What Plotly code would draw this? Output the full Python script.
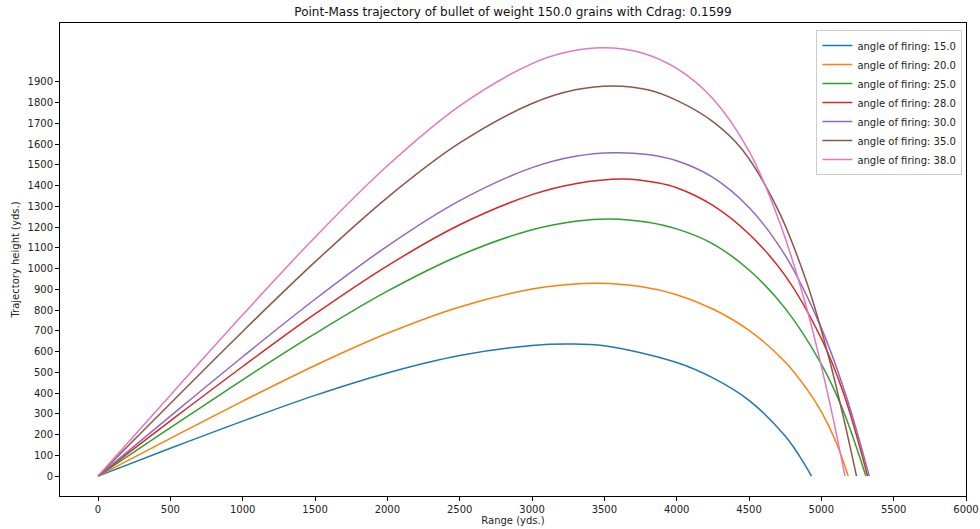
import plotly.graph_objects as go

angles = ["15.0", "20.0", "25.0", "28.0", "30.0", "35.0", "38.0"]
colors = ["#1f77b4", "#ff7f0e", "#2ca02c", "#d62728", "#9467bd", "#8c564b", "#e377c2"]

x15 = [0, 500, 1000, 1500, 2000, 2500, 3000, 3250, 3500, 4000, 4250, 4500, 4750, 4850, 4932]
y15 = [0, 134, 265, 389, 497, 581, 629, 636, 628, 547, 473, 365, 193, 95, 0]

x20 = [0, 500, 1000, 1500, 2000, 2500, 3000, 3250, 3451, 3750, 4000, 4250, 4500, 4750, 4900, 5000, 5100, 5186]
y20 = [0, 182, 361, 533, 688, 815, 901, 923, 929, 913, 874, 805, 702, 550, 419, 311, 167, 0]

x25 = [0, 500, 1000, 1500, 2000, 2500, 3000, 3300, 3543, 3800, 4000, 4250, 4500, 4750, 5000, 5150, 5308]
y25 = [0, 233, 464, 686, 891, 1063, 1187, 1228, 1239, 1223, 1191, 1119, 993, 808, 539, 317, 0]

x28 = [0, 500, 1000, 1500, 2000, 2500, 3000, 3300, 3636, 3866, 4000, 4250, 4500, 4750, 5000, 5160, 5320]
y28 = [0, 266, 528, 781, 1013, 1211, 1356, 1409, 1431, 1413, 1389, 1304, 1166, 966, 663, 386, 0]

x30 = [0, 500, 1000, 1500, 2000, 2500, 3000, 3300, 3566, 3800, 4000, 4250, 4500, 4750, 5000, 5170, 5331]
y30 = [0, 289, 575, 852, 1108, 1327, 1486, 1541, 1558, 1549, 1519, 1439, 1294, 1063, 713, 389, 0]

x35 = [0, 500, 1000, 1500, 2000, 2500, 3000, 3300, 3560, 3800, 4000, 4250, 4450, 4700, 4900, 5050, 5150, 5243]
y35 = [0, 350, 697, 1032, 1342, 1605, 1795, 1861, 1880, 1861, 1810, 1708, 1576, 1284, 931, 576, 291, 0]

x38 = [0, 500, 1000, 1500, 2000, 2500, 3000, 3250, 3497, 3750, 4000, 4250, 4500, 4700, 4900, 5050, 5163]
y38 = [0, 390, 777, 1151, 1495, 1784, 1987, 2044, 2064, 2041, 1964, 1818, 1566, 1245, 806, 378, 0]

xs = [x15, x20, x25, x28, x30, x35, x38]
ys = [y15, y20, y25, y28, y30, y35, y38]

x_ticks = list(range(0, 6001, 500))
y_ticks = list(range(0, 2000, 100))

fig = go.Figure()
for a, c, xv, yv in zip(angles, colors, xs, ys):
    fig.add_trace(go.Scatter(
        x=xv, y=yv, mode="lines", name=f"angle of firing: {a}",
        line=dict(color=c, width=1.5, shape="spline", smoothing=1.0),
    ))

font = "DejaVu Sans, Liberation Sans, sans-serif"
fig.update_layout(
    width=980, height=529,
    margin=dict(l=60, r=14, t=23, b=33, autoexpand=False),
    paper_bgcolor="white", plot_bgcolor="white",
    font=dict(family=font, size=10, color="#222"),
    title=dict(text="Point-Mass trajectory of bullet of weight 150.0 grains with Cdrag: 0.1599",
               x=0.5, xref="paper", xanchor="center",
               y=1 - 12 / 529, yref="container", yanchor="middle",
               font=dict(size=12, color="#111")),
    showlegend=True,
    legend=dict(x=0.996, y=0.985, xanchor="right", yanchor="top",
                bgcolor="rgba(255,255,255,0.85)", bordercolor="#cccccc", borderwidth=1,
                font=dict(size=10, color="#222"), itemwidth=30,
                tracegroupgap=0),
)
fig.update_xaxes(
    range=[-263, 6000], tickvals=x_ticks, ticktext=[str(v) for v in x_ticks],
    showgrid=False, zeroline=False, showline=True, mirror=True, automargin=False,
    linecolor="black", linewidth=1, ticks="outside", ticklen=4, tickcolor="black",
    title=dict(text="Range (yds.)", standoff=2, font=dict(size=10)),
)
fig.update_yaxes(
    range=[-96, 2183], tickvals=y_ticks, ticktext=[str(v) for v in y_ticks],
    showgrid=False, zeroline=False, showline=True, mirror=True, automargin=False,
    linecolor="black", linewidth=1, ticks="outside", ticklen=4, tickcolor="black",
    title=dict(text="Trajectory height (yds.)", standoff=6, font=dict(size=10)),
)

fig.write_html("out.html")
